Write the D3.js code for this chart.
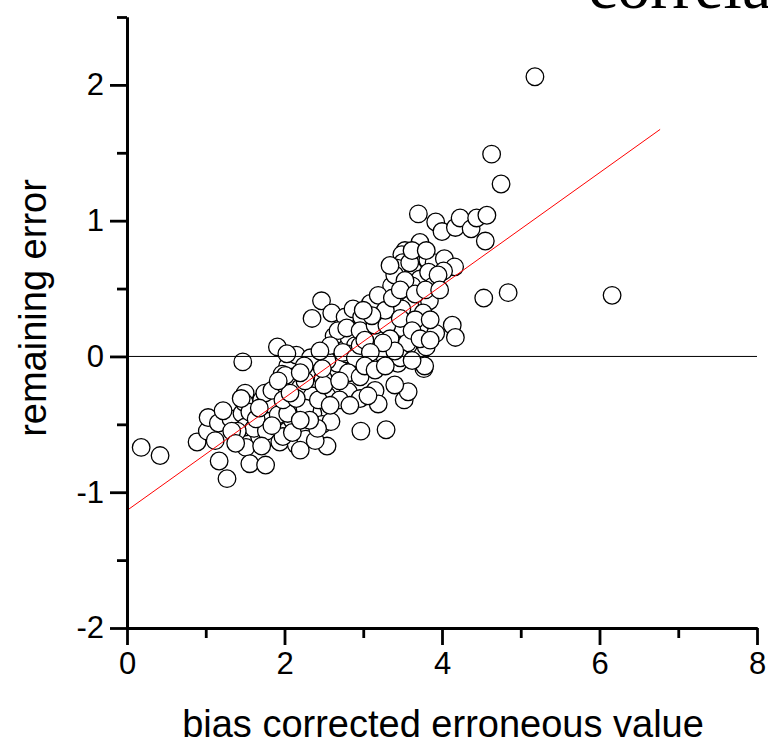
<!DOCTYPE html>
<html>
<head>
<meta charset="utf-8">
<script src="https://cdn.jsdelivr.net/npm/d3@7"></script>
<style>
  body { margin: 0; background: #fff; }
  svg { display: block; }
</style>
</head>
<body>
<svg id="chart" width="768" height="744"></svg>
<script>
// Bias corrected erroneous value (x) and remaining error (y), one entry per sample
const erroneousValue = [
  0.18, 0.42, 0.89, 1.02, 1.03, 1.16, 1.12, 1.17, 1.27, 1.32,
  1.46, 1.47, 1.51, 1.50, 1.47, 1.56, 1.50, 1.49, 1.61, 1.77,
  1.76, 1.71, 1.79, 1.75, 1.84, 1.92, 1.94, 1.91, 2.02, 2.03,
  2.10, 2.15, 2.04, 2.15, 2.12, 1.97, 2.20, 2.23, 2.27, 2.32,
  2.36, 2.41, 2.42, 2.33, 2.48, 2.54, 2.59, 2.49, 2.62, 2.61,
  2.77, 2.70, 2.63, 2.82, 2.81, 2.47, 2.35, 2.60, 2.77, 2.87,
  3.09, 3.21, 3.40, 3.56, 3.68, 3.37, 2.68, 2.79, 3.00, 3.11,
  3.43, 3.30, 2.90, 2.03, 2.67, 2.87, 3.06, 3.21, 3.44, 3.70,
  3.77, 2.35, 2.54, 2.96, 3.15, 3.19, 3.52, 3.57, 2.04, 2.26,
  2.97, 3.29, 1.98, 3.70, 3.92, 4.00, 4.17, 4.23, 4.37, 4.44,
  4.57, 4.55, 3.72, 3.53, 3.49, 3.50, 3.43, 3.69, 3.82, 3.90,
  4.03, 4.16, 4.02, 3.64, 3.72, 3.83, 3.89, 3.62, 3.36, 3.19,
  3.59, 3.84, 3.49, 3.76, 2.98, 2.96, 3.21, 3.92, 4.13, 4.17,
  3.72, 3.80, 3.25, 3.44, 3.57, 2.79, 4.53, 5.18, 4.63, 4.75,
  4.84, 6.16, 3.50, 3.56, 3.78, 3.47,
  1.56, 1.64, 1.68, 1.84, 1.71, 1.40, 1.45,
  1.98, 2.15, 2.10, 2.20, 2.39, 2.42, 2.32, 2.20, 2.07, 2.26, 2.43, 2.50, 2.01, 1.92,
  2.54, 2.48, 2.58, 2.74, 2.90, 2.96, 2.81, 2.96, 2.45, 2.25, 2.20,
  3.02, 3.15, 3.30, 3.34, 3.28, 3.11, 3.00, 3.37, 3.40, 3.25, 3.09, 3.02, 3.15, 3.28,
  3.40, 3.53, 3.47, 3.66, 3.79, 3.59, 3.95, 3.97, 3.34, 3.62, 3.80, 3.47, 3.66, 3.85,
  3.62, 3.72, 3.62, 3.85,
  2.70, 2.83, 3.06, 3.40, 2.70, 2.58,
  1.22, 1.33, 1.38
];
const remainingError = [
  -0.67, -0.73, -0.63, -0.55, -0.45, -0.49, -0.62, -0.77, -0.90, -0.46,
  -0.42, -0.62, -0.67, -0.52, -0.04, -0.79, -0.27, -0.34, -0.53, -0.55,
  -0.80, -0.32, -0.35, -0.27, -0.25, -0.43, -0.63, 0.07, -0.22, -0.55,
  -0.47, -0.65, -0.07, 0.01, -0.15, -0.13, -0.23, -0.56, -0.61, -0.14,
  -0.42, -0.23, -0.04, -0.01, -0.50, -0.66, -0.48, -0.16, -0.25, 0.04,
  -0.05, 0.08, 0.15, 0.14, -0.26, 0.41, 0.28, 0.32, 0.29, 0.35,
  0.39, 0.29, 0.47, 0.43, 0.35, 0.33, 0.19, 0.21, 0.23, 0.13,
  0.20, 0.10, 0.08, 0.02, -0.05, -0.10, -0.03, 0.01, -0.05, 0.01,
  -0.09, -0.29, -0.29, -0.31, -0.25, -0.35, -0.32, -0.26, -0.42, -0.38,
  -0.55, -0.54, -0.59, 1.05, 0.99, 0.92, 0.95, 1.02, 0.94, 1.02,
  1.04, 0.85, 0.84, 0.78, 0.75, 0.69, 0.65, 0.71, 0.71, 0.69,
  0.72, 0.66, 0.63, 0.63, 0.57, 0.62, 0.52, 0.52, 0.52, 0.45,
  0.38, 0.41, 0.35, 0.32, 0.29, 0.19, 0.15, 0.17, 0.23, 0.14,
  0.02, 0.07, 0.02, 0.03, 0.08, 0.02, 0.43, 2.06, 1.49, 1.27,
  0.47, 0.45, 0.21, 0.10, -0.07, -0.01,
  -0.41, -0.46, -0.38, -0.51, -0.66, -0.55, -0.31,
  -0.32, -0.31, -0.56, -0.69, -0.62, -0.53, -0.47, -0.47, -0.27, -0.18, -0.32, -0.21, -0.14, -0.18,
  -0.03, -0.09, 0.08, 0.03, -0.01, 0.08, -0.12, -0.15, 0.04, -0.07, -0.12,
  0.12, 0.23, 0.23, 0.13, 0.34, 0.30, 0.34, 0.43, 0.04, 0.10, 0.03, -0.07, -0.10, -0.07,
  0.60, 0.56, 0.49, 0.46, 0.49, 0.69, 0.60, 0.49, 0.67, 0.78, 0.78, 0.28, 0.27, 0.27,
  0.19, 0.13, -0.03, 0.12,
  -0.32, -0.36, -0.29, -0.21, -0.18, -0.36,
  -0.40, -0.55, -0.64
];

// Linear fit drawn across the data: remaining = intercept + slope * value
const fitIntercept = -1.134;
const fitSlope = 0.4145;
const fitExtent = [0, 6.77];

// Axis ticks
const xMajorTicks = [0, 2, 4, 6, 8];
const xMinorTicks = [1, 3, 5, 7];
const yMajorTicks = [-2, -1, 0, 1, 2];
const yMinorTicks = [-1.5, -0.5, 0.5, 1.5, 2.5];

const xTitle = "bias corrected erroneous value";
const yTitle = "remaining error";
const chartTitle = "correlation";

const svg = d3.select("#chart");

const x = d3.scaleLinear().domain([0, 8]).range([127, 757]);
const y = d3.scaleLinear().domain([-2, 2.5]).range([628, 17]);

const sans = "'Liberation Sans', Arial, sans-serif";
const axisWidth = 2.8;

// Heading, mostly above the top edge
svg.append("text")
  .attr("x", 588)
  .attr("y", 8)
  .attr("font-family", "'Liberation Serif', 'Times New Roman', serif")
  .attr("font-size", 66)
  .attr("fill", "#000")
  .text(chartTitle);

// Scatter points
const points = erroneousValue.map((v, i) => ({ v, e: remainingError[i] }));
svg.append("g")
  .selectAll("circle")
  .data(points)
  .join("circle")
  .attr("cx", d => x(d.v))
  .attr("cy", d => y(d.e))
  .attr("r", 8.8)
  .attr("fill", "#fff")
  .attr("stroke", "#000")
  .attr("stroke-width", 1.3);

// Zero reference line
svg.append("line")
  .attr("x1", x(0)).attr("x2", x(8))
  .attr("y1", y(0)).attr("y2", y(0))
  .attr("stroke", "#000")
  .attr("stroke-width", 1);

// Fitted line
svg.append("line")
  .attr("x1", x(fitExtent[0])).attr("y1", y(fitIntercept + fitSlope * fitExtent[0]))
  .attr("x2", x(fitExtent[1])).attr("y2", y(fitIntercept + fitSlope * fitExtent[1]))
  .attr("stroke", "#ff0000")
  .attr("stroke-width", 1);

// Axes: major ticks with labels, minor ticks without
function styleAxis(g) {
  g.selectAll("path.domain").attr("stroke", "#000").attr("stroke-width", axisWidth);
  g.selectAll(".tick line").attr("stroke", "#000").attr("stroke-width", axisWidth);
  g.selectAll(".tick text")
    .attr("font-family", sans)
    .attr("font-size", 31)
    .attr("fill", "#000");
}

const xAxisMinor = svg.append("g")
  .attr("transform", `translate(0,${y(-2)})`)
  .call(d3.axisBottom(x).tickValues(xMinorTicks).tickSize(10).tickSizeOuter(0).tickFormat(""));
styleAxis(xAxisMinor);

const xAxis = svg.append("g")
  .attr("transform", `translate(0,${y(-2)})`)
  .call(d3.axisBottom(x).tickValues(xMajorTicks).tickSize(17).tickSizeOuter(0).tickPadding(7)
    .tickFormat(d3.format("d")));
styleAxis(xAxis);

const yAxisMinor = svg.append("g")
  .attr("transform", `translate(${x(0)},0)`)
  .call(d3.axisLeft(y).tickValues(yMinorTicks).tickSize(10).tickSizeOuter(0).tickFormat(""));
styleAxis(yAxisMinor);

const yAxis = svg.append("g")
  .attr("transform", `translate(${x(0)},0)`)
  .call(d3.axisLeft(y).tickValues(yMajorTicks).tickSize(17).tickSizeOuter(0).tickPadding(6)
    .tickFormat(d => d < 0 ? "-" + Math.abs(d) : String(d)));
styleAxis(yAxis);

// Axis titles
svg.append("text")
  .attr("x", 443)
  .attr("y", 737)
  .attr("text-anchor", "middle")
  .attr("font-family", sans)
  .attr("font-size", 38)
  .attr("fill", "#000")
  .text(xTitle);

svg.append("text")
  .attr("transform", `translate(46,308) rotate(-90)`)
  .attr("text-anchor", "middle")
  .attr("font-family", sans)
  .attr("font-size", 38)
  .attr("fill", "#000")
  .text(yTitle);
</script>
</body>
</html>
